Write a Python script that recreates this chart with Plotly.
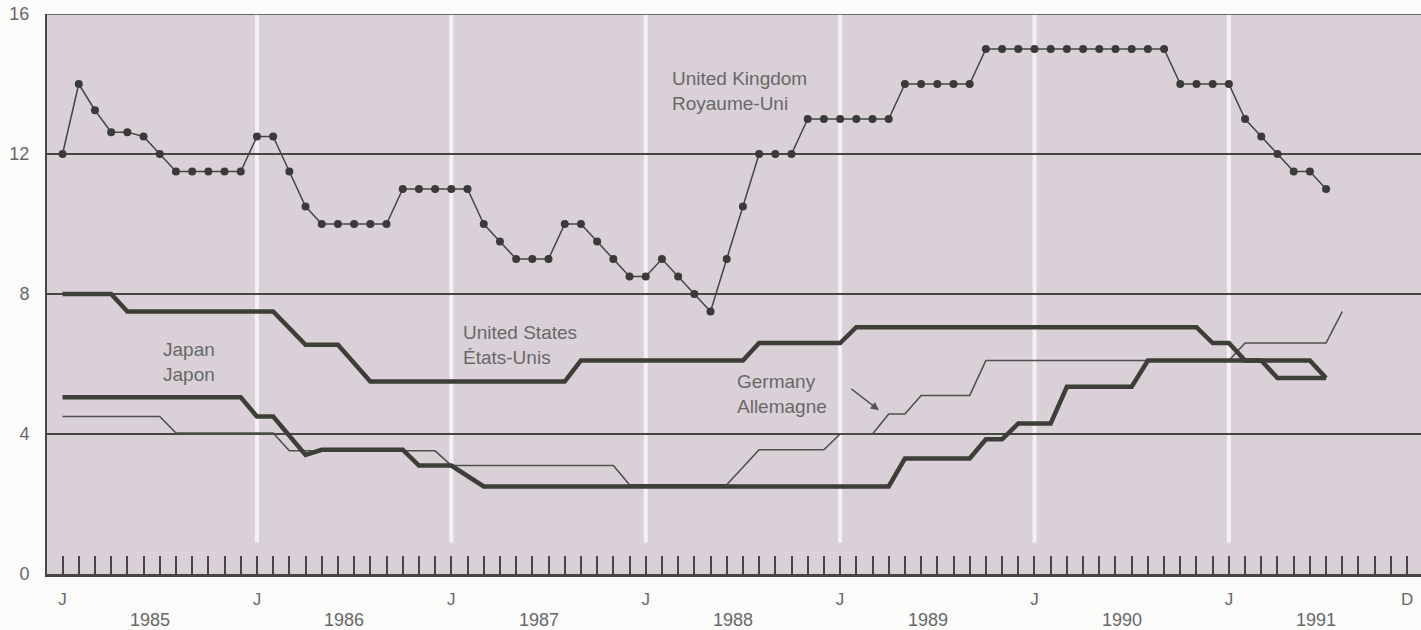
import plotly.graph_objects as go

# ==============================
# Data (month index: 0 = Jan 1985)
# ==============================
UK_MONTHS = list(range(79))
UK_RATE = [12, 14, 13.25, 12.625, 12.625, 12.5, 12,
           11.5, 11.5, 11.5, 11.5, 11.5, 12.5, 12.5, 11.5, 10.5,
           10, 10, 10, 10, 10, 11, 11, 11, 11, 11,
           10, 9.5, 9, 9, 9, 10, 10, 9.5, 9, 8.5, 8.5, 9, 8.5, 8, 7.5,
           9, 10.5, 12, 12, 12, 13, 13, 13, 13, 13, 13,
           14, 14, 14, 14, 14,
           15, 15, 15, 15, 15, 15, 15, 15, 15, 15, 15, 15,
           14, 14, 14, 14, 13, 12.5, 12, 11.5, 11.5, 11]

US_MONTHS = [0, 3, 4, 13, 15, 17, 19, 31, 32, 42, 43, 48, 49, 70, 71, 72, 73, 74, 75, 78]
US_RATE = [8.0, 8.0, 7.5, 7.5, 6.55, 6.55, 5.5, 5.5, 6.1, 6.1, 6.6, 6.6, 7.05, 7.05,
           6.6, 6.6, 6.1, 6.1, 5.6, 5.6]

JP_MONTHS = [0, 11, 12, 13, 15, 16, 21, 22, 24, 26, 51, 52, 56, 57, 58, 59, 61, 62, 66, 67, 77, 78]
JP_RATE = [5.05, 5.05, 4.5, 4.5, 3.4, 3.55, 3.55, 3.1, 3.1, 2.5, 2.5, 3.3, 3.3, 3.85, 3.85,
           4.3, 4.3, 5.35, 5.35, 6.1, 6.1, 5.6]

DE_MONTHS = [0, 6, 7, 13, 14, 23, 24, 34, 35, 41, 43, 47, 48, 50, 51, 52, 53, 56, 57, 72, 73, 78, 79]
DE_RATE = [4.5, 4.5, 4.03, 4.03, 3.52, 3.52, 3.1, 3.1, 2.55, 2.55, 3.55, 3.55, 4.0, 4.0,
           4.57, 4.57, 5.1, 5.1, 6.1, 6.1, 6.6, 6.6, 7.5]

TICK_MONTHS = [0, 12, 24, 36, 48, 60, 72, 83]
TICK_TEXT = ["J", "J", "J", "J", "J", "J", "J", "D"]
YEARS = ["1985", "1986", "1987", "1988", "1989", "1990", "1991"]
JANUARIES = [12, 24, 36, 48, 60, 72]

# ==============================
# Style
# ==============================
FONT = "Liberation Sans, Arial, sans-serif"
TXT = "#686868"
INK = "#464743"
THICK = "#3c3e37"
BG = "#d9d1d7"

fig = go.Figure()

fig.add_trace(go.Scatter(x=DE_MONTHS, y=DE_RATE, mode="lines",
                         line=dict(color="#4e504a", width=1.6), name="Germany"))
fig.add_trace(go.Scatter(x=JP_MONTHS, y=JP_RATE, mode="lines",
                         line=dict(color=THICK, width=4.5), name="Japan"))
fig.add_trace(go.Scatter(x=US_MONTHS, y=US_RATE, mode="lines",
                         line=dict(color=THICK, width=4.5), name="United States"))
fig.add_trace(go.Scatter(x=UK_MONTHS, y=UK_RATE, mode="lines+markers",
                         line=dict(color="#454545", width=1.5),
                         marker=dict(size=8, color="#3a3a3a"), name="United Kingdom"))

# white year separators
for m in JANUARIES:
    fig.add_shape(type="line", x0=m, x1=m, y0=0.9, y1=16, xref="x", yref="y",
                  line=dict(color="#f4f0f3", width=4), layer="below")

# top border
fig.add_shape(type="line", x0=0, x1=1, y0=16, y1=16, xref="paper", yref="y",
              line=dict(color=INK, width=1.5))

# series labels
labels = [
    ("United Kingdom<br>Royaume-Uni", 37.5, 13.8),
    ("United States<br>États-Unis", 24.6, 6.55),
    ("Japan<br>Japon", 6.1, 6.05),
    ("Germany<br>Allemagne", 41.5, 5.15),
]
for txt, x, y in labels:
    fig.add_annotation(x=x, y=y, text=txt, showarrow=False, xanchor="left", yanchor="middle",
                       align="left", font=dict(family=FONT, size=19, color=TXT))

fig.add_annotation(x=50.4, y=4.68, ax=48.6, ay=5.32, axref="x", ayref="y", text="",
                   showarrow=True, arrowhead=2, arrowsize=1.1, arrowwidth=1.5, arrowcolor="#555")

# year labels under the axis
for i, yr in enumerate(YEARS):
    fig.add_annotation(x=12 * i + 5.4, y=0, yref="paper", yanchor="top", yshift=-34,
                       text=yr, showarrow=False, font=dict(family=FONT, size=18, color=TXT))

fig.update_xaxes(range=[-0.96, 83.86], showgrid=False, zeroline=False,
                 showline=True, linecolor=INK, linewidth=3,
                 tickvals=TICK_MONTHS, ticktext=TICK_TEXT,
                 ticks="inside", ticklen=18, tickwidth=1.5, tickcolor=INK,
                 ticklabelstandoff=8,
                 minor=dict(dtick=1, tick0=0, ticks="inside", ticklen=18, tickwidth=1.5,
                            tickcolor=INK, showgrid=False),
                 tickfont=dict(family=FONT, size=17, color=TXT))
fig.update_yaxes(range=[0, 16], tickvals=[0, 4, 8, 12, 16], showgrid=True,
                 gridcolor=INK, gridwidth=1.5, zeroline=False,
                 showline=True, linecolor=INK, linewidth=2, ticks="",
                 ticklabelstandoff=12,
                 tickfont=dict(family=FONT, size=18, color=TXT))

fig.update_layout(width=1421, height=630, showlegend=False,
                  margin=dict(l=47, r=0, t=14, b=56),
                  plot_bgcolor=BG, paper_bgcolor="#fbfbfa",
                  font=dict(family=FONT))

# page has a default body margin; drop it so the figure sits at the window origin
fig.write_html("out.html", config={"displayModeBar": False},
               post_script="document.body.style.margin='0';document.body.style.overflow='hidden';")
